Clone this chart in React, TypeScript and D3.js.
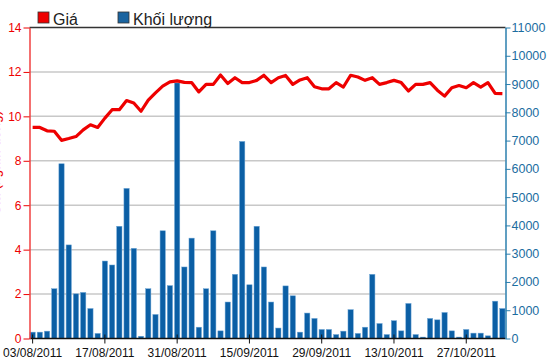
import { useEffect, useRef, useCallback } from 'react';
import * as d3 from 'd3';

const dates = [
  '03/08/2011', '04/08/2011', '05/08/2011', '08/08/2011', '09/08/2011', '10/08/2011', '11/08/2011',
  '12/08/2011', '15/08/2011', '16/08/2011', '17/08/2011', '18/08/2011', '19/08/2011', '22/08/2011',
  '23/08/2011', '24/08/2011', '25/08/2011', '26/08/2011', '29/08/2011', '30/08/2011', '31/08/2011',
  '01/09/2011', '05/09/2011', '06/09/2011', '07/09/2011', '08/09/2011', '09/09/2011', '12/09/2011',
  '13/09/2011', '14/09/2011', '15/09/2011', '16/09/2011', '19/09/2011', '20/09/2011', '21/09/2011',
  '22/09/2011', '23/09/2011', '26/09/2011', '27/09/2011', '28/09/2011', '29/09/2011', '30/09/2011',
  '03/10/2011', '04/10/2011', '05/10/2011', '06/10/2011', '07/10/2011', '10/10/2011', '11/10/2011',
  '12/10/2011', '13/10/2011', '14/10/2011', '17/10/2011', '18/10/2011', '19/10/2011', '20/10/2011',
  '21/10/2011', '24/10/2011', '25/10/2011', '26/10/2011', '27/10/2011', '28/10/2011', '31/10/2011',
  '01/11/2011', '02/11/2011', '03/11/2011'
];

// Khối lượng (right axis)
const volumes = [
  225, 225, 260, 1760, 6180, 3310, 1580, 1630, 1060, 180,
  2740, 2600, 3970, 5310, 3190, 80, 1760, 850, 3810, 1870,
  9040, 2530, 3550, 400, 1760, 3810, 270, 1290, 2270, 6970,
  1900, 3970, 2530, 1290, 370, 1860, 1510, 225, 900, 710,
  320, 320, 140, 260, 1020, 180, 400, 2270, 530, 140,
  630, 270, 1240, 140, 50, 710, 660, 920, 270, 50,
  320, 190, 190, 95, 1320, 1060
];

// Giá (left axis)
const prices = [
  9.5, 9.5, 9.35, 9.33, 8.92, 9.0, 9.09, 9.39, 9.62, 9.5,
  9.92, 10.3, 10.3, 10.71, 10.6, 10.23, 10.73, 11.06, 11.36, 11.55,
  11.6, 11.53, 11.52, 11.1, 11.44, 11.44, 11.86, 11.48, 11.74, 11.52,
  11.52, 11.62, 11.85, 11.52, 11.74, 11.84, 11.44, 11.64, 11.74, 11.33,
  11.24, 11.24, 11.52, 11.32, 11.85, 11.77, 11.62, 11.74, 11.44, 11.52,
  11.62, 11.52, 11.14, 11.44, 11.44, 11.52, 11.18, 10.91, 11.29, 11.39,
  11.29, 11.52, 11.32, 11.52, 11.03, 11.02
];

const xTickLabels = ['03/08/2011', '17/08/2011', '31/08/2011', '15/09/2011', '29/09/2011', '13/10/2011', '27/10/2011'];
const leftTicks = [0, 2, 4, 6, 8, 10, 12, 14];
const rightTicks = [0, 1000, 2000, 3000, 4000, 5000, 6000, 7000, 8000, 9000, 10000, 11000];

const RED = '#ee0000';
const BLUE = '#0b5fa5';
const AXIS_BLUE = '#2b7fae';
const FONT = 'Liberation Sans, Arial, sans-serif';

export default function App() {
  const chartRef = useRef<SVGSVGElement | null>(null);

  const drawChart = useCallback(() => {
    if (!chartRef.current) return;
    const svg = d3.select(chartRef.current);
    svg.selectAll('*').remove();

    const width = 550;
    const height = 364;
    const left = 29.5;
    const right = 505.5;
    const top = 27.5;
    const bottom = 338.5;

    const x = d3
      .scaleBand()
      .domain(dates)
      .range([29, 506])
      .paddingInner(0.27)
      .paddingOuter(0.135);

    const yLeft = d3.scaleLinear().domain([0, 14]).range([bottom, top]);
    const yRight = d3.scaleLinear().domain([0, 11000]).range([bottom, top]);

    svg.append('rect').attr('width', width).attr('height', height).attr('fill', '#fff');

    // gridlines
    svg
      .append('g')
      .selectAll('line')
      .data(leftTicks.filter((d) => d > 0 && d < 14))
      .join('line')
      .attr('x1', left)
      .attr('x2', right)
      .attr('y1', (d) => yLeft(d))
      .attr('y2', (d) => yLeft(d))
      .attr('stroke', '#c8c8c8')
      .attr('stroke-width', 1.5);

    // bars
    svg
      .append('g')
      .selectAll('rect')
      .data(volumes)
      .join('rect')
      .attr('x', (_, i) => x(dates[i]) || 0)
      .attr('y', (d) => yRight(d))
      .attr('width', x.bandwidth())
      .attr('height', (d) => bottom - yRight(d))
      .attr('fill', BLUE)
      .attr('stroke', '#6ea6d6')
      .attr('stroke-width', 0.5);

    // price line
    const line = d3
      .line<number>()
      .x((_, i) => (x(dates[i]) || 0) + x.bandwidth() / 2)
      .y((d) => yLeft(d));

    svg
      .append('path')
      .datum(prices)
      .attr('d', line)
      .attr('fill', 'none')
      .attr('stroke', RED)
      .attr('stroke-width', 3.2)
      .attr('stroke-linejoin', 'round');

    // top border
    svg
      .append('line')
      .attr('x1', left)
      .attr('x2', right)
      .attr('y1', top)
      .attr('y2', top)
      .attr('stroke', '#333')
      .attr('stroke-width', 1.5);

    // x axis
    const xAxis = d3
      .axisBottom(x)
      .tickValues(xTickLabels)
      .tickSizeInner(5)
      .tickSizeOuter(0);
    const gx = svg.append('g').attr('transform', `translate(0, ${bottom})`).call(xAxis);
    gx.select('.domain').attr('stroke', '#111').attr('stroke-width', 1.5).attr('d', `M${left},0H${right}`);
    gx.selectAll('.tick line').attr('stroke', '#111').attr('y1', -4);
    gx.selectAll('.tick text')
      .attr('fill', '#111')
      .attr('dy', '0.9em')
      .style('font-family', FONT)
      .style('font-size', '12px');

    // left axis
    const gl = svg
      .append('g')
      .attr('transform', `translate(${left}, 0)`)
      .call(d3.axisLeft(yLeft).tickValues(leftTicks).tickSizeInner(6).tickSizeOuter(0));
    gl.select('.domain').attr('stroke', '#f04040').attr('stroke-width', 1.5);
    gl.selectAll('.tick line').attr('stroke', RED);
    gl.selectAll('.tick text')
      .attr('fill', RED)
      .attr('x', -8)
      .style('font-family', FONT)
      .style('font-size', '12px');

    // right axis
    const gr = svg
      .append('g')
      .attr('transform', `translate(${right}, 0)`)
      .call(
        d3
          .axisRight(yRight)
          .tickValues(rightTicks)
          .tickFormat(d3.format('d'))
          .tickSizeInner(5)
          .tickSizeOuter(0)
      );
    gr.select('.domain').attr('stroke', AXIS_BLUE).attr('stroke-width', 1.5);
    gr.selectAll('.tick line').attr('stroke', AXIS_BLUE);
    gr.selectAll('.tick text')
      .attr('fill', '#1c6d9f')
      .attr('x', 6)
      .style('font-family', FONT)
      .style('font-size', '12.5px');

    // left axis title, mostly cut off by the page edge as in the original
    svg
      .append('text')
      .attr('transform', 'translate(-0.5, 163) rotate(-90)')
      .attr('text-anchor', 'middle')
      .attr('fill', RED)
      .style('font-family', FONT)
      .style('font-size', '14px')
      .text('Giá (nghìn đồng)');

    // legend
    const legendItems = [
      { label: 'Giá', color: RED, x: 38 },
      { label: 'Khối lượng', color: '#1a64a0', x: 118 }
    ];
    const legend = svg.append('g');
    legendItems.forEach((item) => {
      legend
        .append('rect')
        .attr('x', item.x)
        .attr('y', 12)
        .attr('width', 11)
        .attr('height', 11)
        .attr('fill', item.color)
        .attr('stroke', '#333')
        .attr('stroke-width', 0.8);
      legend
        .append('text')
        .attr('x', item.x + 15)
        .attr('y', 24.5)
        .attr('fill', '#222')
        .style('font-family', FONT)
        .style('font-size', '16px')
        .text(item.label);
    });
  }, []);

  useEffect(() => {
    drawChart();
  }, [drawChart]);

  return (
    <svg
      ref={chartRef}
      width={550}
      height={364}
      style={{ position: 'absolute', left: 0, top: 0, display: 'block' }}
    />
  );
}
